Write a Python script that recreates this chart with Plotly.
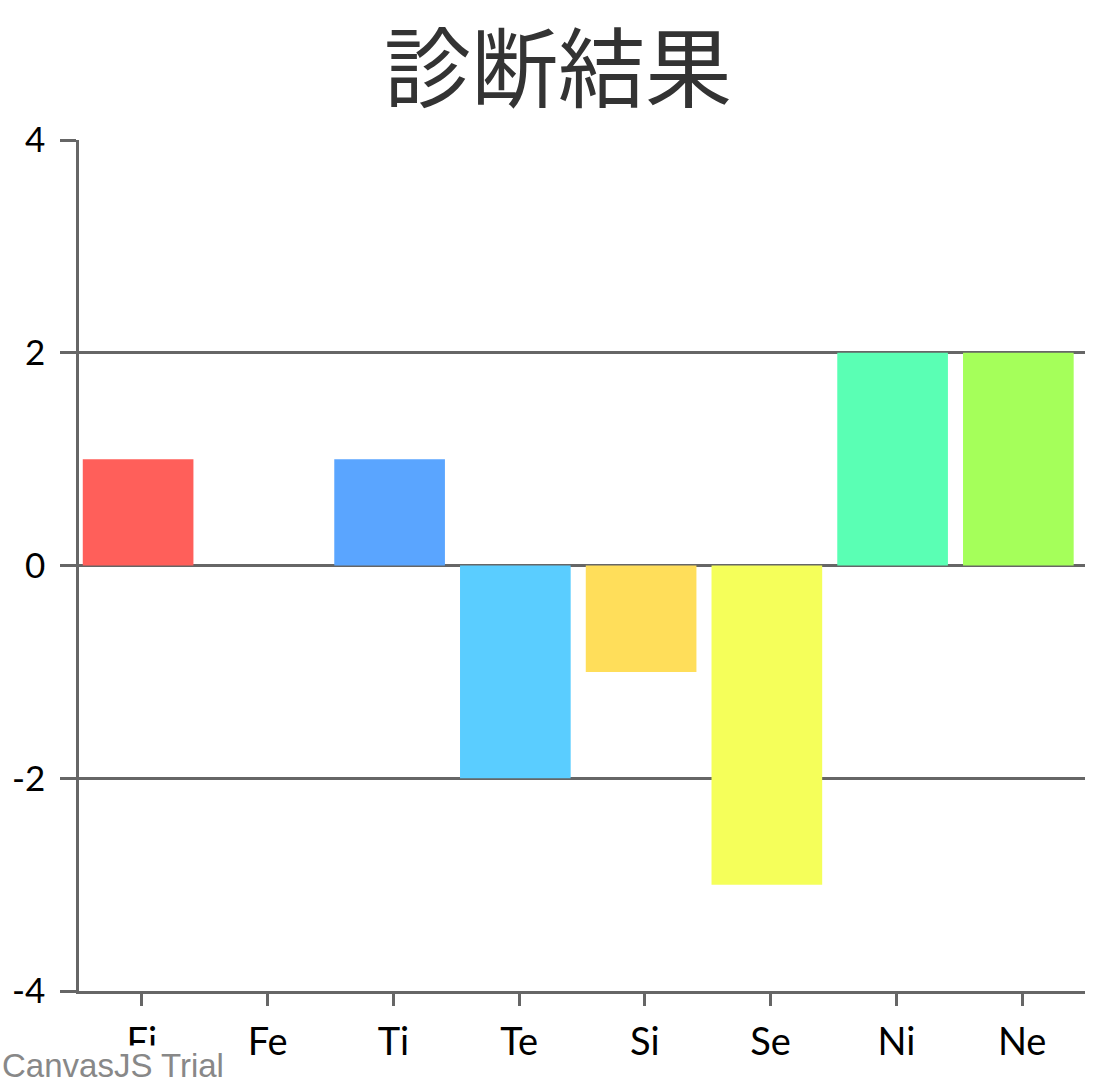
import plotly.graph_objects as go

# diagnosis result per function
functions = ['Fi', 'Fe', 'Ti', 'Te', 'Si', 'Se', 'Ni', 'Ne']
scores = [1, 0, 1, -2, -1, -3, 2, 2]
bar_colors = ['#FF5F5A', '#FFA55A', '#5AA5FF', '#5ACDFF', '#FFDE5A', '#F5FF5A', '#5AFFB4', '#A5FF5A']
y_ticks = [-4, -2, 0, 2, 4]
y_tick_text = ['-4', '-2', '0', '2', '4']

AXIS_GREY = '#666666'
LINE_W = 2.5

fig = go.Figure(go.Bar(
    x=functions,
    y=scores,
    marker=dict(color=bar_colors, line=dict(width=0)),
    width=0.88,
    offset=-0.47,  # bars sit a touch left of the tick, like the original
    hoverinfo='x+y',
))

fig.update_layout(
    width=1116,
    height=1080,
    margin=dict(l=79, r=31, t=140, b=89),
    paper_bgcolor='white',
    plot_bgcolor='white',
    showlegend=False,
    title=dict(
        text='診断結果',
        x=0.5, xanchor='center',
        y=0.935, yanchor='middle',
        font=dict(family='Noto Sans CJK JP', size=87, color='#333333'),
    ),
    xaxis=dict(
        range=[-0.5, 7.5],
        showline=True, linecolor=AXIS_GREY, linewidth=LINE_W,
        ticks='outside', ticklen=12, tickwidth=LINE_W, tickcolor=AXIS_GREY,
        showgrid=False,
        tickfont=dict(family='Lato', size=38, color='black'),
        ticklabelstandoff=4,
    ),
    yaxis=dict(
        range=[-4, 4],
        tickvals=y_ticks,
        ticktext=y_tick_text,
        showline=True, linecolor=AXIS_GREY, linewidth=LINE_W,
        ticks='outside', ticklen=16, tickwidth=LINE_W, tickcolor=AXIS_GREY,
        showgrid=True, gridcolor=AXIS_GREY, gridwidth=LINE_W,
        zeroline=False,
        tickfont=dict(family='Lato', size=35, color='black'),
        ticklabelstandoff=8,
    ),
    annotations=[dict(
        text='CanvasJS Trial',
        xref='paper', yref='paper',
        x=-0.0785, y=-0.0875,
        xanchor='left', yanchor='middle',
        showarrow=False,
        bgcolor='white',
        font=dict(family='Liberation Sans', size=33, color='#888888'),
    )],
)

fig.write_html('out.html', config={'displayModeBar': False},
               post_script="document.body.style.margin='0';")
